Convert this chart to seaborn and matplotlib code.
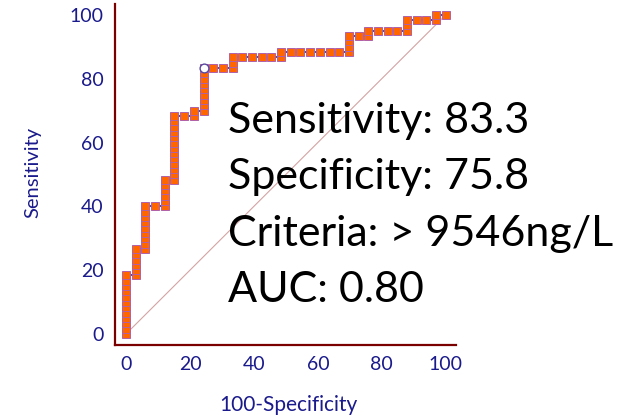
import matplotlib
matplotlib.use("Agg")
import matplotlib.pyplot as plt
import seaborn as sns
import pandas as pd
from matplotlib.ticker import MultipleLocator

# ROC curve points: 100-Specificity (%) and Sensitivity (%)
fpr = ([0.0] * 12 + [3.03] * 6 + [6.06] * 9 + [9.09] + [12.12] * 6 + [15.15] * 13
       + [18.18] + [21.21] * 2 + [24.24] * 9 + [27.27, 30.30] + [33.33] * 3
       + [36.36, 39.39, 42.42, 45.45] + [48.48] * 2
       + [51.52, 54.55, 57.58, 60.61, 63.64, 66.67] + [69.70] * 4 + [72.73]
       + [75.76] * 2 + [78.79, 81.82, 84.85] + [87.88] * 3 + [90.91, 93.94]
       + [96.97] * 2 + [100.0])
sens = ([0, 1.67, 3.33, 5, 6.67, 8.33, 10, 11.67, 13.33, 15, 16.67, 18.33]
        + [18.33, 20, 21.67, 23.33, 25, 26.67]
        + [26.67, 28.33, 30, 31.67, 33.33, 35, 36.67, 38.33, 40]
        + [40]
        + [40, 41.67, 43.33, 45, 46.67, 48.33]
        + [48.33, 50, 51.67, 53.33, 55, 56.67, 58.33, 60, 61.67, 63.33, 65, 66.67, 68.33]
        + [68.33]
        + [68.33, 70]
        + [70, 71.67, 73.33, 75, 76.67, 78.33, 80, 81.67, 83.33]
        + [83.33, 83.33]
        + [83.33, 85, 86.67]
        + [86.67, 86.67, 86.67, 86.67]
        + [86.67, 88.33]
        + [88.33] * 6
        + [88.33, 90, 91.67, 93.33]
        + [93.33]
        + [93.33, 95]
        + [95, 95, 95]
        + [95, 96.67, 98.33]
        + [98.33, 98.33]
        + [98.33, 100]
        + [100])

# optimal criterion point
crit_x = [24.24]
crit_y = [83.33]

# reference diagonal
diag_x = [0, 100]
diag_y = [0, 100]

ticks = [0, 20, 40, 60, 80, 100]
stats_lines = ["Sensitivity: 83.3", "Specificity: 75.8",
               "Criteria: > 9546ng/L", "AUC: 0.80"]

sns.set_style("white")
plt.rcParams['font.family'] = ['Lato', 'DejaVu Sans']

W, H = 620, 420
fig = plt.figure(figsize=(W / 100, H / 100), dpi=100)
ax = fig.add_axes([115 / W, 75 / H, 341 / W, 341 / H])

df = pd.DataFrame({"x": fpr, "y": sens})
dfd = pd.DataFrame({"x": diag_x, "y": diag_y})
dfc = pd.DataFrame({"x": crit_x, "y": crit_y})

sns.lineplot(data=dfd, x="x", y="y", ax=ax, color="#d4a3a3", lw=0.8,
             sort=False, estimator=None, zorder=1)
sns.lineplot(data=df, x="x", y="y", ax=ax, color="#3d3d99", lw=1.3,
             sort=False, estimator=None, marker="s", markersize=5.3,
             markerfacecolor="#ff6600", markeredgecolor="#b060a8",
             markeredgewidth=0.7, zorder=3)
sns.scatterplot(data=dfc, x="x", y="y", ax=ax, marker="o", s=40,
                facecolor="white", edgecolor="#5a4aa0", linewidth=1.0, zorder=4)

ax.set_xlim(-3.44, 103.2)
ax.set_ylim(-3.45, 103.4)
ax.set_xticks(ticks)
ax.set_yticks(ticks)
ax.xaxis.set_minor_locator(MultipleLocator(5))
ax.yaxis.set_minor_locator(MultipleLocator(5))

spine_c = "#7a0000"
for s in ["top", "right"]:
    ax.spines[s].set_visible(False)
for s in ["left", "bottom"]:
    ax.spines[s].set_color(spine_c)
    ax.spines[s].set_linewidth(1.6)

ax.tick_params(which="major", direction="in", length=6.5, width=1.3,
               color=spine_c, labelcolor="#1a1a8c", labelsize=14, pad=8)
ax.tick_params(which="minor", direction="in", length=3.2, width=1.1,
               color=spine_c)

ax.set_xlabel("")
ax.set_ylabel("")
fig.text(288 / W, 1 - 411 / H, "100-Specificity", ha="center", va="baseline",
         color="#1a1a8c", fontsize=15)
fig.text(33 / W, 1 - 172 / H, "Sensitivity", ha="center", va="center",
         rotation=90, color="#1a1a8c", fontsize=14.5)

baselines = [133, 189.5, 246, 302]
for txt, b in zip(stats_lines, baselines):
    fig.text(228 / W, 1 - b / H, txt, ha="left", va="baseline",
             color="black", fontsize=31)

fig.savefig("out.png", dpi=100, facecolor="white")
